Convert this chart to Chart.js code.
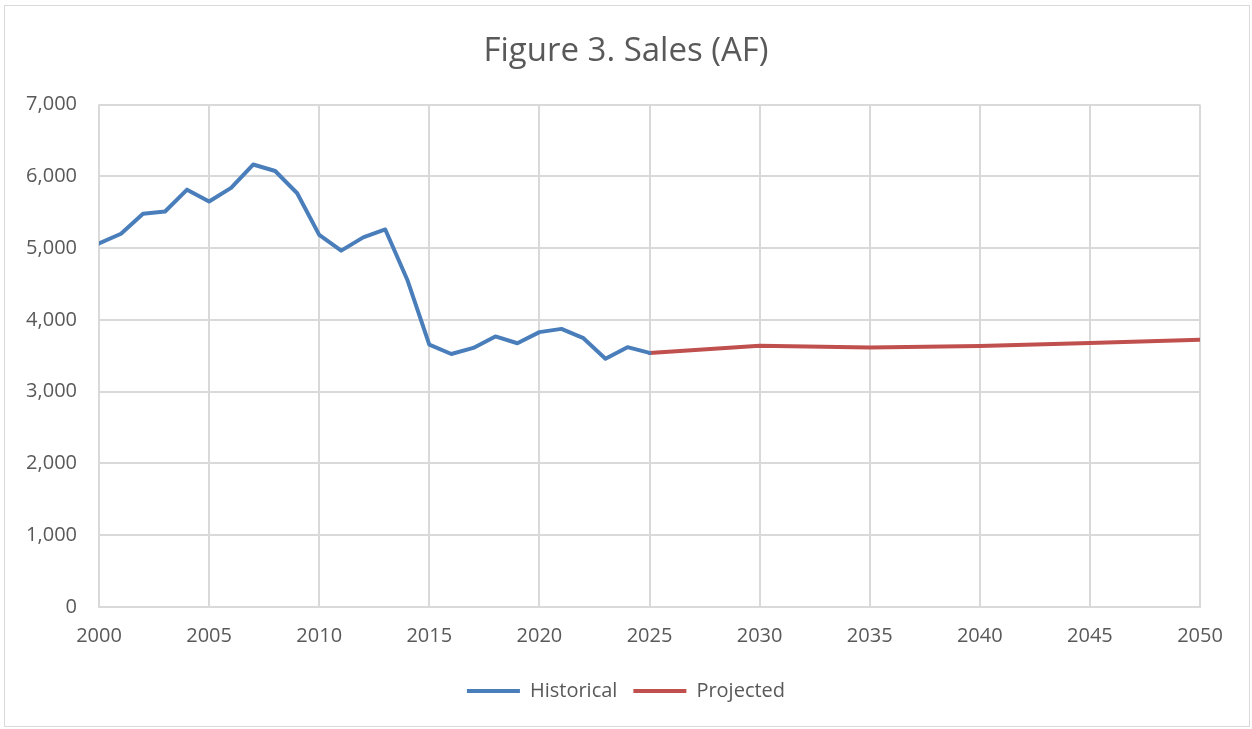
<!DOCTYPE html>
<html>
<head>
<meta charset="utf-8">
<script src="https://cdn.jsdelivr.net/npm/chart.js@4"></script>
<style>
  html, body { margin: 0; padding: 0; background: #fff; }
  #frame { position: absolute; left: 4px; top: 5px; width: 1244px; height: 720px; border: 1px solid #d9d9d9; }
  #wrap { position: absolute; left: 0; top: 0; width: 1252px; height: 729px; }
</style>
</head>
<body>
<div id="frame"></div>
<div id="wrap"><canvas id="salesChart"></canvas></div>
<script>
const histYears  = [2000,2001,2002,2003,2004,2005,2006,2007,2008,2009,2010,2011,2012,2013,2014,2015,2016,2017,2018,2019,2020,2021,2022,2023,2024,2025];
const histSales  = [5065,5200,5480,5510,5815,5650,5840,6165,6075,5765,5185,4965,5150,5260,4560,3655,3525,3610,3770,3675,3830,3875,3745,3460,3620,3540];
const projYears  = [2025,2030,2035,2040,2045,2050];
const projSales  = [3540,3640,3615,3635,3680,3725];
const xTicks     = [2000,2005,2010,2015,2020,2025,2030,2035,2040,2045,2050];
const yTicks     = [0,1000,2000,3000,4000,5000,6000,7000];

const GRID = '#d9d9d9';
const TEXT = '#595959';
const FONT = "'Open Sans', 'Liberation Sans', sans-serif";

const toPts = (xs, ys) => xs.map((x, i) => ({ x, y: ys[i] }));
const fmt = v => v.toLocaleString('en');

// y labels are drawn mirrored (unclipped) and pulled back left of the axis,
// so the axis box can stay narrow and the title/legend centre like the original
const meas = document.createElement('canvas').getContext('2d');
meas.font = `20px ${FONT}`;
const widestY = Math.max(...yTicks.map(v => meas.measureText(fmt(v)).width));

new Chart(document.getElementById('salesChart'), {
  type: 'line',
  data: {
    datasets: [
      {
        label: 'Historical',
        data: toPts(histYears, histSales),
        borderColor: '#4a7ebb',
        backgroundColor: '#4a7ebb',
        borderWidth: 4,
        pointRadius: 0,
        tension: 0,
        borderCapStyle: 'round',
        borderJoinStyle: 'round',
      },
      {
        label: 'Projected',
        data: toPts(projYears, projSales),
        borderColor: '#c0504d',
        backgroundColor: '#c0504d',
        borderWidth: 4,
        pointRadius: 0,
        tension: 0,
        borderCapStyle: 'round',
        borderJoinStyle: 'round',
      },
    ],
  },
  options: {
    responsive: true,
    maintainAspectRatio: false,
    animation: false,
    layout: { padding: { left: 52, right: 52, top: 10, bottom: 18 } },
    plugins: {
      title: {
        display: true,
        text: 'Figure 3. Sales (AF)',
        color: TEXT,
        font: { family: FONT, size: 33, weight: 'normal' },
        padding: { top: 22, bottom: 33 },
      },
      legend: {
        position: 'bottom',
        labels: {
          color: TEXT,
          font: { family: FONT, size: 20 },
          usePointStyle: true,
          pointStyle: 'line',
          pointStyleWidth: 53,
          boxHeight: 18,
          padding: 16,
        },
      },
      tooltip: { enabled: false },
    },
    scales: {
      x: {
        type: 'linear',
        min: 2000,
        max: 2050,
        afterBuildTicks: axis => { axis.ticks = xTicks.map(v => ({ value: v })); },
        ticks: { color: TEXT, font: { family: FONT, size: 20 }, padding: 17, callback: v => String(v) },
        grid: { color: GRID, lineWidth: 2, drawTicks: false },
        border: { color: GRID, width: 2 },
      },
      y: {
        min: 0,
        max: 7000,
        afterFit: axis => { axis.width = 47; },
        afterBuildTicks: axis => { axis.ticks = yTicks.map(v => ({ value: v })); },
        ticks: { mirror: true, crossAlign: 'far', padding: -(22 + widestY),
                 color: TEXT, font: { family: FONT, size: 20 }, callback: fmt },
        grid: { color: GRID, lineWidth: 2, drawTicks: false },
        border: { display: false },
      },
    },
  },
});
</script>
</body>
</html>
